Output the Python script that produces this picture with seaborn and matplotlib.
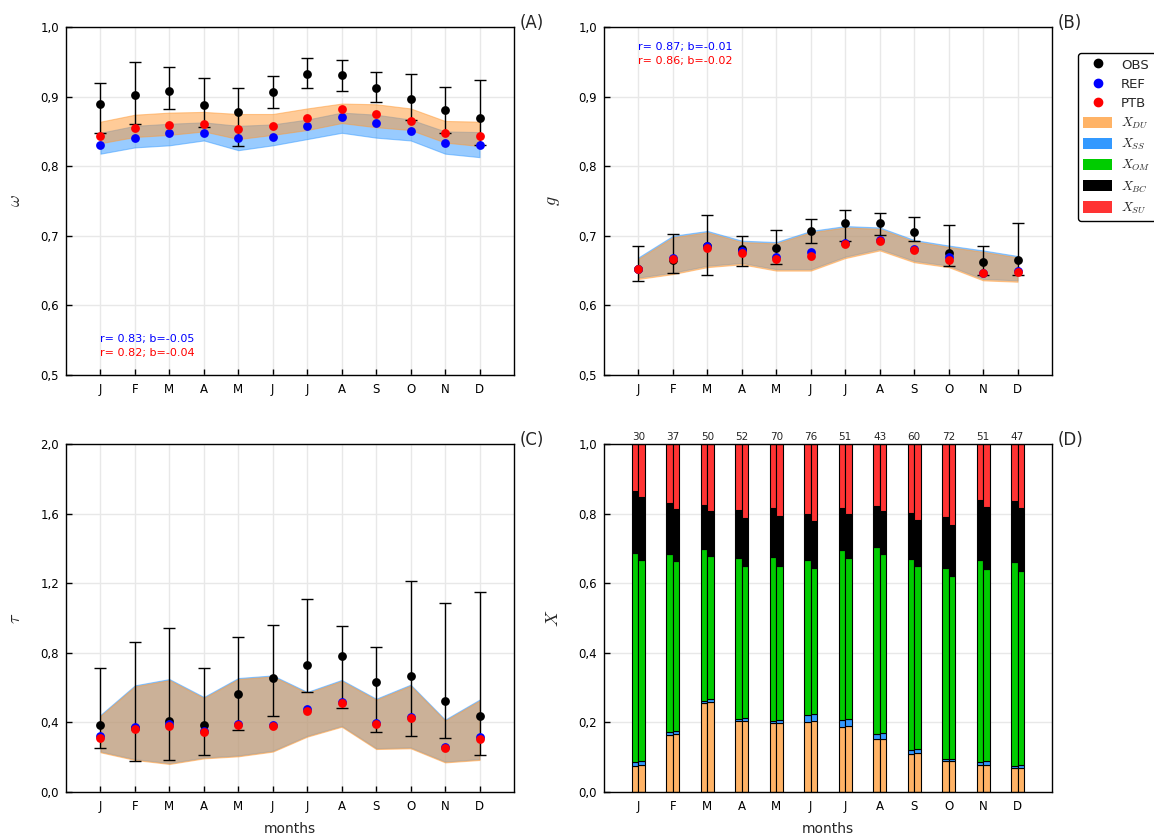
import numpy as np
import matplotlib
matplotlib.use("Agg")
import matplotlib.pyplot as plt
from matplotlib.lines import Line2D
from matplotlib.patches import Patch
from matplotlib.ticker import FuncFormatter
import seaborn as sns

# ---------------- data ----------------
month_labels = ["J", "F", "M", "A", "M", "J", "J", "A", "S", "O", "N", "D"]
months = np.arange(1, 13)

# (A) single scattering albedo
obs_w = [0.890, 0.903, 0.908, 0.888, 0.878, 0.906, 0.933, 0.931, 0.913, 0.897, 0.881, 0.869]
obs_w_hi = [0.920, 0.950, 0.942, 0.927, 0.913, 0.930, 0.956, 0.952, 0.935, 0.933, 0.914, 0.924]
obs_w_lo = [0.847, 0.860, 0.882, 0.856, 0.829, 0.883, 0.912, 0.908, 0.892, 0.867, 0.847, 0.830]
ref_w = [0.830, 0.841, 0.847, 0.848, 0.840, 0.842, 0.858, 0.870, 0.862, 0.851, 0.833, 0.831]
ptb_w = [0.844, 0.855, 0.859, 0.861, 0.854, 0.858, 0.869, 0.882, 0.875, 0.865, 0.847, 0.844]
ref_w_lo = [0.818, 0.827, 0.830, 0.837, 0.823, 0.830, 0.839, 0.848, 0.841, 0.837, 0.818, 0.813]
ref_w_hi = [0.848, 0.858, 0.861, 0.863, 0.858, 0.860, 0.867, 0.877, 0.874, 0.867, 0.850, 0.849]
ptb_w_lo = [0.833, 0.842, 0.845, 0.850, 0.839, 0.845, 0.852, 0.862, 0.856, 0.852, 0.834, 0.829]
ptb_w_hi = [0.864, 0.874, 0.877, 0.878, 0.875, 0.875, 0.883, 0.890, 0.889, 0.883, 0.865, 0.864]

# (B) asymmetry parameter
obs_g = [0.653, 0.665, 0.686, 0.681, 0.683, 0.707, 0.719, 0.719, 0.706, 0.676, 0.662, 0.665]
obs_g_hi = [0.686, 0.702, 0.730, 0.699, 0.709, 0.724, 0.737, 0.733, 0.727, 0.716, 0.685, 0.718]
obs_g_lo = [0.635, 0.646, 0.643, 0.656, 0.660, 0.689, 0.693, 0.701, 0.692, 0.656, 0.643, 0.643]
ref_g = [0.653, 0.668, 0.686, 0.678, 0.670, 0.677, 0.690, 0.694, 0.681, 0.669, 0.647, 0.649]
ptb_g = [0.652, 0.666, 0.682, 0.675, 0.667, 0.671, 0.688, 0.692, 0.680, 0.665, 0.646, 0.648]
ref_g_lo = [0.640, 0.647, 0.657, 0.661, 0.652, 0.652, 0.670, 0.681, 0.664, 0.657, 0.638, 0.636]
ref_g_hi = [0.669, 0.700, 0.707, 0.693, 0.691, 0.707, 0.714, 0.712, 0.694, 0.686, 0.679, 0.671]
ptb_g_lo = [0.638, 0.645, 0.655, 0.659, 0.650, 0.650, 0.668, 0.679, 0.662, 0.655, 0.636, 0.634]
ptb_g_hi = [0.667, 0.698, 0.705, 0.691, 0.689, 0.705, 0.712, 0.710, 0.692, 0.684, 0.677, 0.669]

# (C) aerosol optical depth
obs_t = [0.387, 0.370, 0.406, 0.383, 0.563, 0.657, 0.732, 0.784, 0.630, 0.669, 0.521, 0.437]
obs_t_hi = [0.711, 0.864, 0.941, 0.711, 0.889, 0.958, 1.107, 0.956, 0.831, 1.211, 1.086, 1.151]
obs_t_lo = [0.251, 0.180, 0.186, 0.211, 0.354, 0.435, 0.573, 0.485, 0.347, 0.324, 0.308, 0.211]
ref_t = [0.324, 0.374, 0.391, 0.352, 0.392, 0.387, 0.475, 0.519, 0.397, 0.429, 0.259, 0.314]
ptb_t = [0.308, 0.362, 0.381, 0.345, 0.385, 0.381, 0.467, 0.510, 0.391, 0.423, 0.251, 0.303]
ref_t_lo = [0.233, 0.189, 0.166, 0.198, 0.210, 0.237, 0.323, 0.380, 0.252, 0.256, 0.175, 0.189]
ref_t_hi = [0.443, 0.613, 0.649, 0.546, 0.655, 0.670, 0.575, 0.644, 0.536, 0.617, 0.416, 0.531]
ptb_t_lo = [0.228, 0.184, 0.161, 0.193, 0.205, 0.232, 0.318, 0.375, 0.247, 0.251, 0.170, 0.184]
ptb_t_hi = [0.437, 0.607, 0.643, 0.540, 0.649, 0.664, 0.569, 0.638, 0.530, 0.611, 0.410, 0.525]

stat_text = {
    "A": ["r= 0.83; b=-0.05", "r= 0.82; b=-0.04"],
    "B": ["r= 0.87; b=-0.01", "r= 0.86; b=-0.02"],
}

# (D) species fractions (REF bar, PTB bar)
n_days = [30, 37, 50, 52, 70, 76, 51, 43, 60, 72, 51, 47]
ref_du = [0.076, 0.163, 0.255, 0.203, 0.197, 0.201, 0.188, 0.151, 0.110, 0.088, 0.077, 0.068]
ref_ss = [0.009, 0.009, 0.007, 0.007, 0.007, 0.020, 0.019, 0.017, 0.010, 0.006, 0.009, 0.007]
ref_om = [0.603, 0.513, 0.437, 0.461, 0.470, 0.446, 0.487, 0.535, 0.550, 0.551, 0.582, 0.586]
ref_bc = [0.177, 0.146, 0.126, 0.138, 0.142, 0.133, 0.122, 0.120, 0.133, 0.146, 0.171, 0.175]
ref_su = [0.135, 0.169, 0.175, 0.191, 0.184, 0.200, 0.184, 0.177, 0.197, 0.209, 0.161, 0.164]
ptb_du = [0.077, 0.166, 0.258, 0.205, 0.199, 0.203, 0.190, 0.153, 0.113, 0.088, 0.079, 0.069]
ptb_ss = [0.011, 0.009, 0.008, 0.008, 0.008, 0.021, 0.020, 0.017, 0.010, 0.007, 0.010, 0.008]
ptb_om = [0.579, 0.489, 0.413, 0.437, 0.443, 0.421, 0.463, 0.515, 0.525, 0.525, 0.553, 0.559]
ptb_bc = [0.181, 0.149, 0.128, 0.138, 0.144, 0.134, 0.126, 0.122, 0.135, 0.148, 0.177, 0.180]
ptb_su = [0.152, 0.187, 0.193, 0.212, 0.206, 0.221, 0.201, 0.193, 0.217, 0.232, 0.181, 0.184]

species = ["DU", "SS", "OM", "BC", "SU"]
species_colors = ["#ffb366", "#3399ff", "#00cc00", "#000000", "#ff3333"]

# ---------------- style ----------------
sns.set_theme(style="whitegrid", rc={
    "axes.edgecolor": "black",
    "axes.linewidth": 1.0,
    "grid.color": "#e8e8e8",
    "grid.linewidth": 1.0,
    "xtick.direction": "in",
    "ytick.direction": "in",
    "xtick.bottom": True,
    "ytick.left": True,
    "xtick.major.size": 4,
    "ytick.major.size": 4,
    "xtick.major.width": 1,
    "ytick.major.width": 1,
    "xtick.color": "black",
    "ytick.color": "black",
    "xtick.labelsize": 8.5,
    "ytick.labelsize": 8.5,
    "xtick.major.pad": 6,
    "ytick.major.pad": 5,
    "axes.labelsize": 10,
    "mathtext.fontset": "cm",
})
plt.rcParams["font.family"] = ["DejaVu Sans"]

REF_C, PTB_C, OBS_C = "#0000ff", "#ff0000", "#000000"
BAND_REF, BAND_PTB = "#3399ff", "#ff9933"
DOT = 40

fig = plt.figure(figsize=(11.54, 8.40), dpi=100)
W, H = 1154, 840
def add_axes(x0, y0, x1, y1):
    return fig.add_axes([x0 / W, 1 - y1 / H, (x1 - x0) / W, (y1 - y0) / H])

axA = add_axes(66, 27, 514, 375)
axB = add_axes(604, 27, 1052, 375)
axC = add_axes(66, 444, 514, 792)
axD = add_axes(604, 444, 1052, 792)

comma = FuncFormatter(lambda v, p: f"{v:.1f}".replace(".", ","))


def finish(ax, ylim, step, ylabel, tag, xlabel=None):
    ax.set_xlim(0, 13)
    ax.set_ylim(*ylim)
    ax.set_xticks(months)
    ax.set_xticklabels(month_labels)
    ax.set_yticks(np.arange(ylim[0], ylim[1] + step / 2, step))
    ax.yaxis.set_major_formatter(comma)
    ax.set_ylabel(ylabel, fontsize=13, labelpad=12)
    if xlabel:
        ax.set_xlabel(xlabel, fontsize=10, labelpad=6)
    ax.text(1.012, 1.012, f"({tag})", transform=ax.transAxes, ha="left",
            va="center", fontsize=12)
    for s in ax.spines.values():
        s.set_color("black")
        s.set_linewidth(1.0)


def panel(ax, obs, lo, hi, ref, ptb, rlo, rhi, plo, phi):
    ax.fill_between(months, rlo, rhi, color=BAND_REF, alpha=0.5, lw=0.8, zorder=1)
    ax.fill_between(months, plo, phi, color=BAND_PTB, alpha=0.5, lw=0.8, zorder=1.1)
    obs_a = np.array(obs)
    yerr = [obs_a - np.array(lo), np.array(hi) - obs_a]
    ax.errorbar(months, obs, yerr=yerr, fmt="none", ecolor="black",
                elinewidth=1, capsize=4.5, capthick=1, zorder=2)
    sns.scatterplot(x=months, y=obs, color=OBS_C, s=DOT, linewidth=0, ax=ax, zorder=3)
    sns.scatterplot(x=months, y=ref, color=REF_C, s=DOT, linewidth=0, ax=ax, zorder=4)
    sns.scatterplot(x=months, y=ptb, color=PTB_C, s=DOT, linewidth=0, ax=ax, zorder=5)


panel(axA, obs_w, obs_w_lo, obs_w_hi, ref_w, ptb_w, ref_w_lo, ref_w_hi, ptb_w_lo, ptb_w_hi)
finish(axA, (0.5, 1.0), 0.1, r"$\omega$", "A")
axA.text(1, 0.552, stat_text["A"][0], color="blue", fontsize=8, va="center")
axA.text(1, 0.532, stat_text["A"][1], color="red", fontsize=8, va="center")

panel(axB, obs_g, obs_g_lo, obs_g_hi, ref_g, ptb_g, ref_g_lo, ref_g_hi, ptb_g_lo, ptb_g_hi)
finish(axB, (0.5, 1.0), 0.1, r"$g$", "B")
axB.text(1, 0.971, stat_text["B"][0], color="blue", fontsize=8, va="center")
axB.text(1, 0.951, stat_text["B"][1], color="red", fontsize=8, va="center")

panel(axC, obs_t, obs_t_lo, obs_t_hi, ref_t, ptb_t, ref_t_lo, ref_t_hi, ptb_t_lo, ptb_t_hi)
finish(axC, (0.0, 2.0), 0.4, r"$\tau$", "C", xlabel="months")

# stacked composition bars
bw = 0.19
for offset, parts in [(-bw / 2, [ref_du, ref_ss, ref_om, ref_bc, ref_su]),
                      (bw / 2, [ptb_du, ptb_ss, ptb_om, ptb_bc, ptb_su])]:
    bottom = np.zeros(12)
    for vals, col in zip(parts, species_colors):
        axD.bar(months + offset, vals, width=bw, bottom=bottom, color=col,
                edgecolor="black", linewidth=0.8, zorder=2)
        bottom = bottom + np.array(vals)
for m, n in zip(months, n_days):
    axD.text(m, 1.006, str(n), ha="center", va="bottom", fontsize=7.5, clip_on=False)
finish(axD, (0.0, 1.0), 0.2, r"$X$", "D", xlabel="months")

# shared legend
handles = [
    Line2D([], [], marker="o", linestyle="", color=OBS_C, markersize=6, label="OBS"),
    Line2D([], [], marker="o", linestyle="", color=REF_C, markersize=6, label="REF"),
    Line2D([], [], marker="o", linestyle="", color=PTB_C, markersize=6, label="PTB"),
]
for sp, col in zip(species, species_colors):
    handles.append(Patch(facecolor=col, edgecolor="none", label=rf"$X_{{{sp}}}$"))
leg = fig.legend(handles=handles, loc="upper left", bbox_to_anchor=(1078 / W, 1 - 53 / H),
                 borderaxespad=0, fontsize=9.5, frameon=True, fancybox=True, framealpha=1,
                 edgecolor="black", borderpad=0.4, labelspacing=0.45,
                 handlelength=2.2, handleheight=0.95, handletextpad=0.65)
leg.get_frame().set_linewidth(1.0)

fig.savefig("out.png", dpi=100)
